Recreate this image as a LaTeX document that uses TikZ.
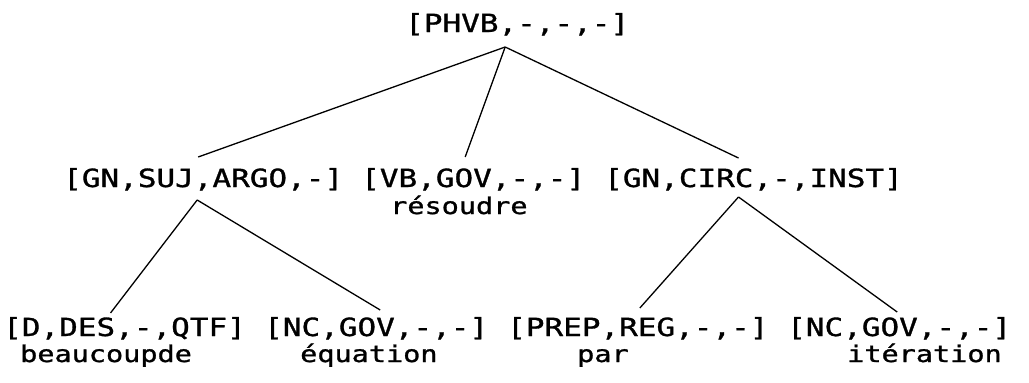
\documentclass[tikz,border=0pt]{standalone}
\usepackage{fontspec}
\newfontfamily\dotfont[FakeStretch=1.24,FakeBold=1.2]{DejaVu Sans Mono}
\usetikzlibrary{calc}
\begin{document}
\begin{tikzpicture}[x=1pt,y=-1pt,
  lbl/.style={font=\dotfont\fontsize{25}{25}\selectfont, inner sep=0pt, anchor=base west},
  word/.style={lbl, font=\dotfont\fontsize{23}{23}\selectfont},
  edge/.style={line width=1.3pt, black}]
\useasboundingbox (0,0) rectangle (1029,383);
% top
\node[lbl] (top) at (405,32) {[PHVB,-,-,-]};
% row 2
\node[lbl] (gn1) at (63,187) {[GN,SUJ,ARGO,-]};
\node[lbl] (vb)  at (361,187) {[VB,GOV,-,-]};
\node[lbl] (gn2) at (604,187) {[GN,CIRC,-,INST]};
\node[word] (w-vb) at (390,214) {résoudre};
% row 3
\node[lbl] (d)    at (3,336)   {[D,DES,-,QTF]};
\node[lbl] (nc1)  at (264,336) {[NC,GOV,-,-]};
\node[lbl] (prep) at (507,336) {[PREP,REG,-,-]};
\node[lbl] (nc2)  at (787,336) {[NC,GOV,-,-]};
\node[word] (w-d)    at (20,362)  {beaucoupde};
\node[word] (w-nc1)  at (300,362) {équation};
\node[word] (w-prep) at (577,362) {par};
\node[word] (w-nc2)  at (847,362) {itération};
% edges
\draw[edge] ($(top.base)+(-12,15)$) -- ($(gn1.base)+(-5,-30)$);
\draw[edge] ($(top.base)+(-12,15)$) -- ($(vb.base)+(-8,-30)$);
\draw[edge] ($(top.base)+(-12,15)$) -- ($(gn2.base)+(-15,-29)$);
\draw[edge] ($(gn1.base)+(-6,13)$) -- ($(d.base)+(-14,-23)$);
\draw[edge] ($(gn1.base)+(-6,13)$) -- ($(nc1.base)+(4,-26)$);
\draw[edge] ($(gn2.base)+(-15,10)$) -- ($(prep.base)+(2,-28)$);
\draw[edge] ($(gn2.base)+(-15,10)$) -- ($(nc2.base)+(-2,-24)$);
\end{tikzpicture}
\end{document}
